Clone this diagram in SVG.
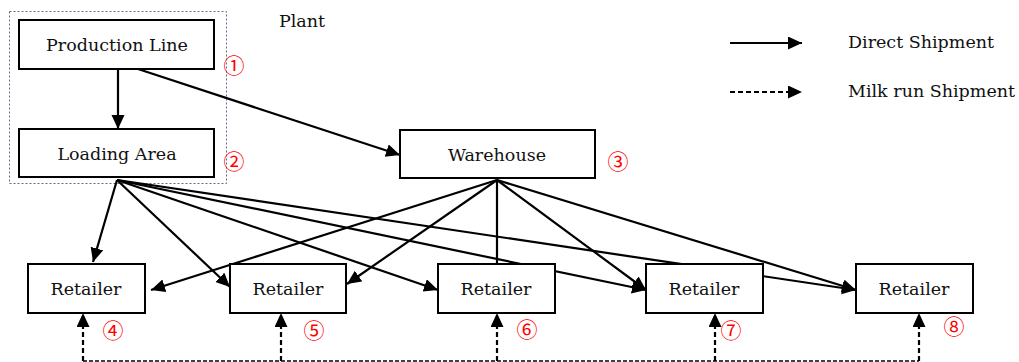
<svg xmlns="http://www.w3.org/2000/svg" width="1019" height="362" viewBox="0 0 1019 362">
<style>
.box{fill:#fff;stroke:#000;stroke-width:2}
.lbl{font-family:"DejaVu Serif","Liberation Serif",serif;font-size:17.5px;fill:#111;text-anchor:middle}
.leg{font-family:"DejaVu Serif","Liberation Serif",serif;font-size:17.5px;fill:#111}
.num{font-family:"Noto Sans CJK JP","DejaVu Sans",sans-serif;font-size:21px;fill:#f00;text-anchor:middle;dominant-baseline:central}
.ln{stroke:#000;stroke-width:2.2;fill:none}
.arr{marker-end:url(#ah)}
.dv{stroke:#000;stroke-width:2.2;fill:none;stroke-dasharray:5 3}
.dh{stroke:#000;stroke-width:1.5;fill:none;stroke-dasharray:4 2}
</style>
<defs>
<marker id="ah" markerUnits="userSpaceOnUse" markerWidth="15" markerHeight="14" refX="14" refY="6.5" orient="auto">
<path d="M0,0 L14,6.5 L0,13 z" fill="#000"/>
</marker>
</defs>
<rect x="9.5" y="11.5" width="217" height="172" fill="none" stroke="#5a6a8a" stroke-width="1" stroke-dasharray="2 2"/>
<text class="leg" x="279" y="27">Plant</text>
<g id="connectors">
<line class="ln arr" x1="118" y1="69" x2="118" y2="129"/>
<line class="ln arr" x1="138" y1="69" x2="400" y2="155"/>
<line class="ln arr" x1="117" y1="180" x2="93" y2="262"/>
<line class="ln arr" x1="117" y1="180" x2="230" y2="287"/>
<line class="ln arr" x1="117" y1="180" x2="438" y2="290"/>
<line class="ln arr" x1="117" y1="180" x2="646" y2="290"/>
<line class="ln arr" x1="117" y1="180" x2="856" y2="290"/>
<line class="ln arr" x1="497" y1="180" x2="151" y2="290"/>
<line class="ln arr" x1="497" y1="180" x2="347" y2="284"/>
<line class="ln" x1="497" y1="180" x2="497" y2="264"/>
<line class="ln arr" x1="497" y1="180" x2="646" y2="290"/>
<line class="ln arr" x1="497" y1="180" x2="856" y2="290"/>
<polyline class="dh" points="83,361 919,361"/>
<line class="dv arr" x1="83" y1="361" x2="83" y2="313"/>
<line class="dv arr" x1="281" y1="361" x2="281" y2="313"/>
<line class="dv arr" x1="497" y1="361" x2="497" y2="313"/>
<line class="dv arr" x1="715" y1="361" x2="715" y2="313"/>
<line class="dv arr" x1="919" y1="361" x2="919" y2="313"/>
</g>
<g id="legend">
<line class="ln arr" x1="730" y1="43" x2="802" y2="43"/>
<line class="dv arr" x1="730" y1="92" x2="802" y2="92"/>
<text class="leg" x="848" y="48">Direct Shipment</text>
<text class="leg" x="848" y="97">Milk run Shipment</text>
</g>
<g id="production-line">
<rect class="box" x="19" y="20" width="195" height="49"/>
<text class="lbl" x="117" y="51">Production Line</text>
<text class="num" x="234" y="64">①</text>
</g>
<g id="loading-area">
<rect class="box" x="19" y="129" width="195" height="48"/>
<text class="lbl" x="117" y="160">Loading Area</text>
<text class="num" x="234" y="160">②</text>
</g>
<g id="warehouse">
<rect class="box" x="400" y="130" width="195" height="48"/>
<text class="lbl" x="497" y="161">Warehouse</text>
<text class="num" x="618" y="160">③</text>
</g>
<g id="retailer-4">
<rect class="box" x="28" y="264" width="117" height="49"/>
<text class="lbl" x="86" y="295">Retailer</text>
<text class="num" x="113" y="329">④</text>
</g>
<g id="retailer-5">
<rect class="box" x="230" y="264" width="116" height="49"/>
<text class="lbl" x="288" y="295">Retailer</text>
<text class="num" x="314" y="329">⑤</text>
</g>
<g id="retailer-6">
<rect class="box" x="438" y="264" width="117" height="49"/>
<text class="lbl" x="496" y="295">Retailer</text>
<text class="num" x="527" y="328">⑥</text>
</g>
<g id="retailer-7">
<rect class="box" x="646" y="264" width="117" height="49"/>
<text class="lbl" x="704" y="295">Retailer</text>
<text class="num" x="731" y="329">⑦</text>
</g>
<g id="retailer-8">
<rect class="box" x="856" y="264" width="117" height="49"/>
<text class="lbl" x="914" y="295">Retailer</text>
<text class="num" x="954" y="325">⑧</text>
</g>
</svg>
